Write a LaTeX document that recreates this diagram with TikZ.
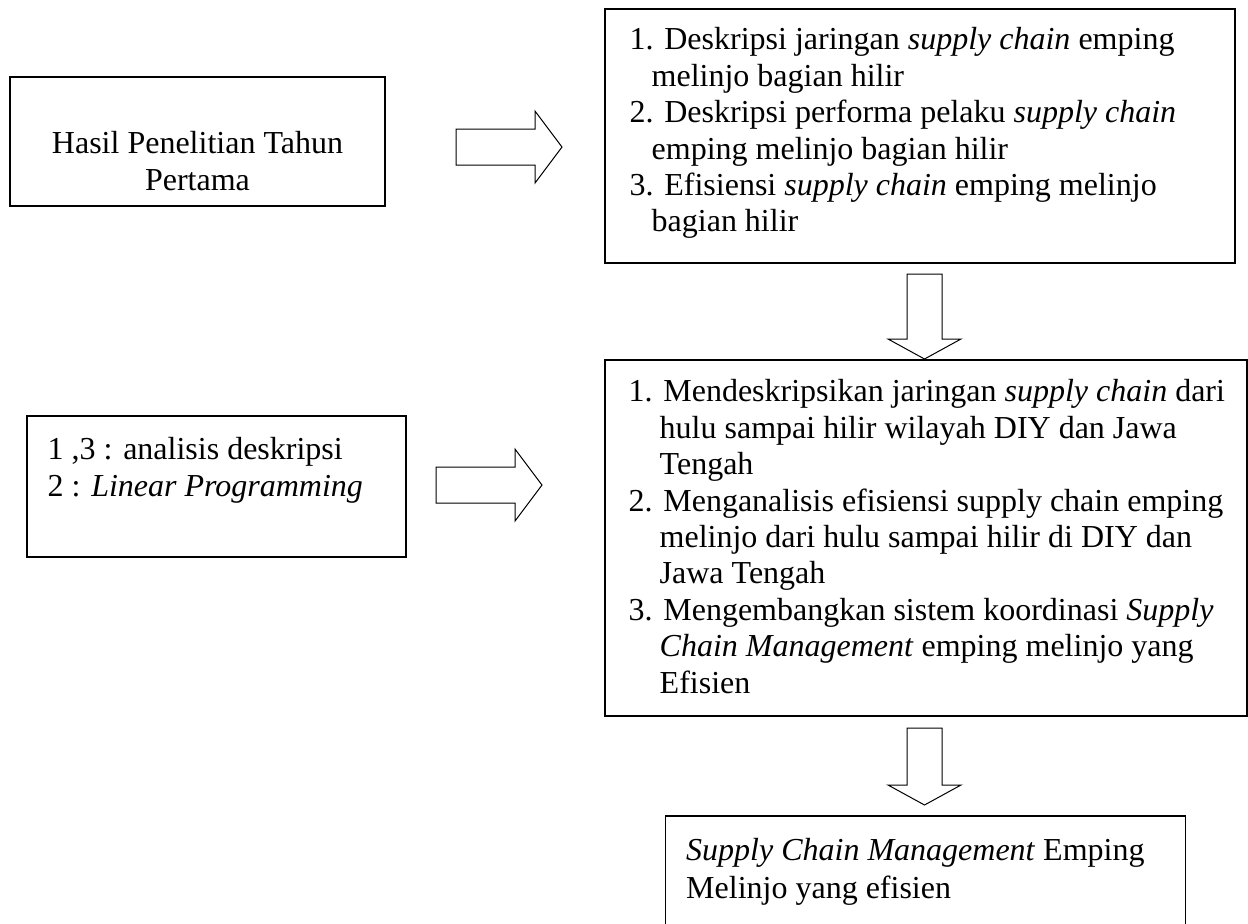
\documentclass[tikz,border=0pt]{standalone}
\usepackage{fontspec}
\setmainfont{Liberation Serif}
\usetikzlibrary{calc, positioning}
\tikzset{
    boxnode/.style = {draw, rectangle, line width=0.7pt, inner sep=0em, fill=none},
    textnode/.style = {draw=none, fill=none, rectangle, inner sep=0em, align=left,
      font=\fontsize{16}{18.2}\selectfont},
    fatarrow/.style = {draw, line width=0.5pt, fill=white, line join=miter}
}
% hollow block arrows, #1 = tail (middle of shaft), #2 = tip
\newcommand{\fatright}[2]{\draw[fatarrow] ($(#1)+(0,-18)$) -- ($(#2)+(-27,-18)$) -- ($(#2)+(-27,-36)$) -- (#2)
  -- ($(#2)+(-27,36)$) -- ($(#2)+(-27,18)$) -- ($(#1)+(0,18)$) -- cycle;}
\newcommand{\fatdown}[2]{\draw[fatarrow] ($(#1)+(-17.5,0)$) -- ($(#2)+(-17.5,-20)$) -- ($(#2)+(-36.5,-20)$) -- (#2)
  -- ($(#2)+(36.5,-20)$) -- ($(#2)+(17.5,-20)$) -- ($(#1)+(17.5,0)$) -- cycle;}

\begin{document}
\begin{tikzpicture}[x=0.5pt, y=-0.5pt]
\useasboundingbox (0,0) rectangle (1248,923);
\clip (0,0) rectangle (1248,923);

% boxes
\node [boxnode, name=hasil, minimum width=187.5pt, minimum height=64.5pt] at (197.5,141.5) {};
\node [boxnode, name=hilir, minimum width=315pt, minimum height=127pt] at (920,136) {};
\node [boxnode, name=metode, minimum width=189.5pt, minimum height=70.5pt] at (216.5,486.5) {};
\node [boxnode, name=tujuan, minimum width=321pt, minimum height=178pt] at (926,538) {};
\node [boxnode, name=hasilakhir, minimum width=260pt, minimum height=70pt] at (925.5,886) {};

% texts
\node [textnode, name=Thasil, align=center, anchor=north] at ($(hasil.north)+(0,55)$)
  {Hasil Penelitian Tahun\\Pertama};

\node [textnode, name=Thilir, anchor=north west] at ($(hilir.north west)+(25,19)$) {%
1. Deskripsi jaringan \textit{supply chain} emping\\
\hspace*{11pt}melinjo bagian hilir\\
2. Deskripsi performa pelaku \textit{supply chain}\\
\hspace*{11pt}emping melinjo bagian hilir\\
3. Efisiensi \textit{supply chain} emping melinjo\\
\hspace*{11pt}bagian hilir};

\node [textnode, name=Tmetode, anchor=north west] at ($(metode.north west)+(21,22)$) {%
1 ,3 : analisis deskripsi\\
2 : \textit{Linear Programming}};

\node [textnode, name=Ttujuan, anchor=north west] at ($(tujuan.north west)+(24,20)$) {%
1. Mendeskripsikan jaringan \textit{supply chain} dari\\
\hspace*{15.5pt}hulu sampai hilir wilayah DIY dan Jawa\\
\hspace*{15.5pt}Tengah\\
2. Menganalisis efisiensi supply chain emping\\
\hspace*{15.5pt}melinjo dari hulu sampai hilir di DIY dan\\
\hspace*{15.5pt}Jawa Tengah\\
3. Mengembangkan sistem koordinasi \textit{Supply}\\
\hspace*{15.5pt}\textit{Chain Management} emping melinjo yang\\
\hspace*{15.5pt}Efisien};

\node [textnode, name=Takhir, anchor=north west] at ($(hasilakhir.north west)+(21,23)$) {%
\textit{Supply Chain Management} Emping\\[0.8pt]
Melinjo yang efisien};

% arrows
\coordinate (a1) at (456,147);
\coordinate (a1tip) at (562,147);
\coordinate (a2) at (436,485);
\coordinate (a2tip) at (542,485);
\coordinate (d1) at (924.5,274);
\coordinate (d1tip) at (924.5,359);
\coordinate (d2) at (924.5,728);
\coordinate (d2tip) at (924.5,805);

\fatright{a1}{a1tip}
\fatright{a2}{a2tip}
\fatdown{d1}{d1tip}
\fatdown{d2}{d2tip}

\end{tikzpicture}
\end{document}
